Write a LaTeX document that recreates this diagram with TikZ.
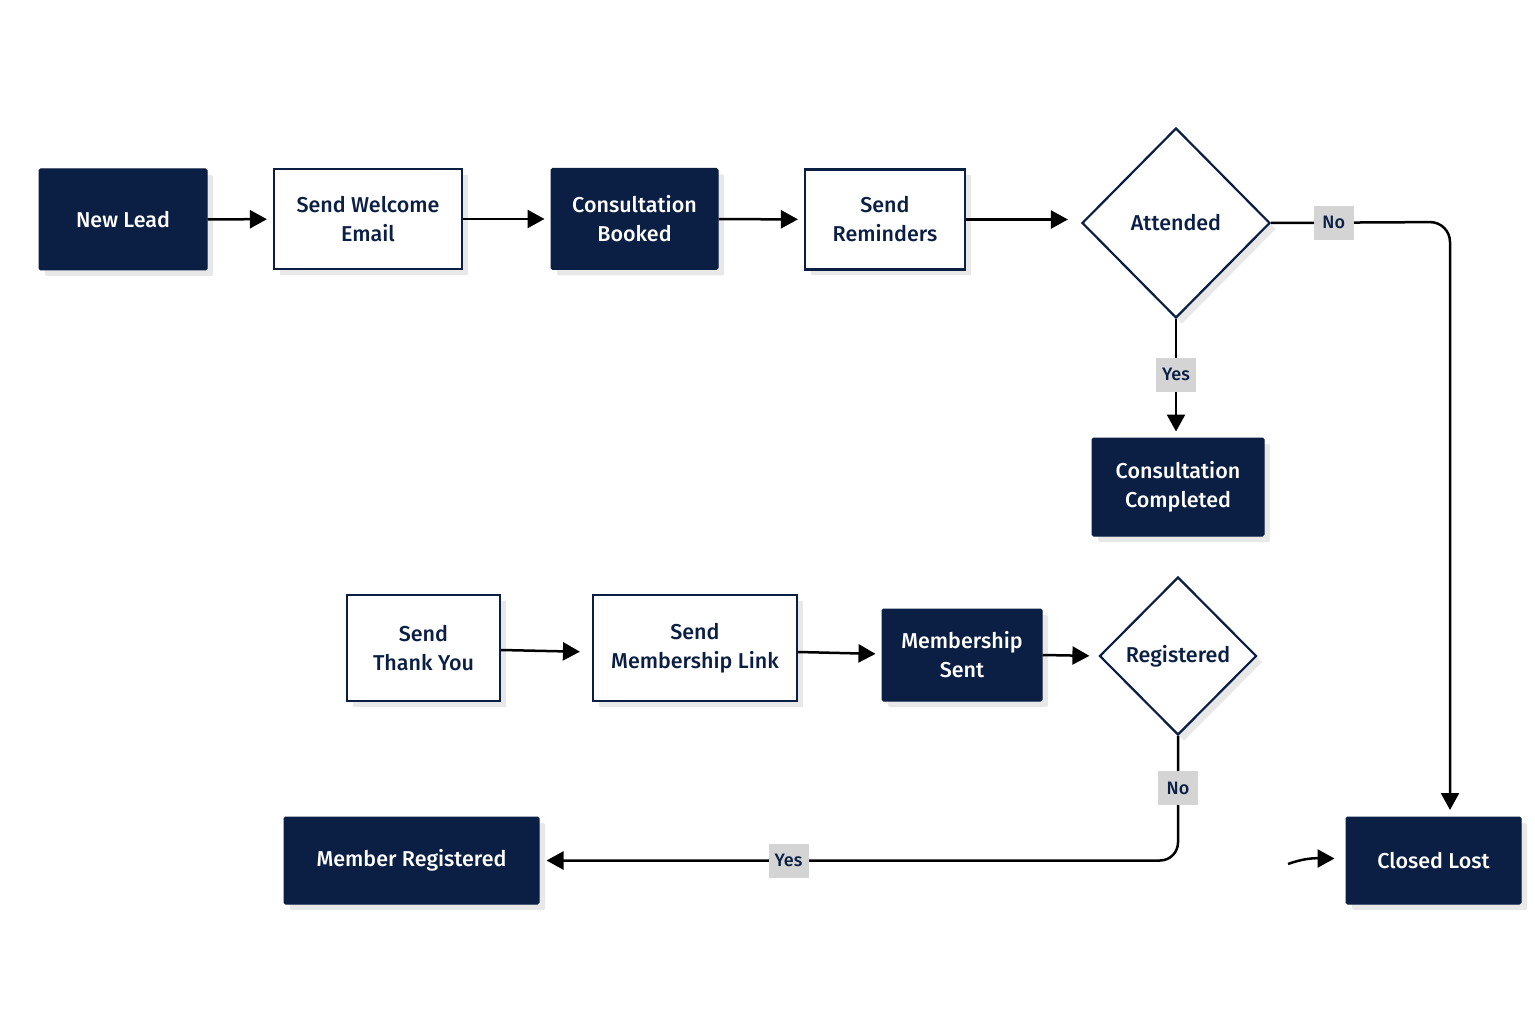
\documentclass[tikz,border=0pt]{standalone}
\usepackage{fontspec}
\setmainfont{Fira Sans}[UprightFont={* Medium}]
\usetikzlibrary{shapes.geometric,arrows.meta,shadows}
\definecolor{navy}{RGB}{11,31,68}
\definecolor{shade}{RGB}{232,232,232}
\definecolor{lblgray}{RGB}{212,212,212}
\begin{document}
\begin{tikzpicture}[x=1pt,y=-1pt,
  font=\fontsize{21.5}{29}\selectfont,
  shad/.style={general shadow={fill=shade, shadow xshift=6pt, shadow yshift=-6pt}},
  dark/.style={rectangle, fill=navy, draw=navy, line width=1pt, text=white, align=center, rounded corners=1.5pt, shad},
  light/.style={rectangle, fill=white, draw=navy, line width=2.2pt, text=navy, align=center, shad},
  dia/.style={diamond, fill=white, draw=navy, line width=2.2pt, text=navy, inner sep=0pt, shad},
  lbl/.style={rectangle, sharp corners, fill=lblgray, text=navy, font=\fontsize{18}{20}\selectfont, minimum width=40pt, minimum height=34pt, inner sep=2pt},
  arr/.style={line width=2.5pt, -{Triangle[length=17pt,width=18pt]}}]
\fill[white] (0,0) rectangle (1535,1024);
\useasboundingbox (0,0) rectangle (1535,1024);

% row 1
\node[dark, minimum width=168pt, minimum height=101pt] (nl) at (123,219.5) {New Lead};
\node[light, minimum width=188pt, minimum height=100pt] (we) at (368,219) {Send Welcome\\Email};
\node[dark, minimum width=167pt, minimum height=101pt] (cb) at (634.5,219) {Consultation\\Booked};
\node[light, minimum width=160pt, minimum height=100pt] (sr) at (885,219.5) {Send\\Reminders};
\node[dia, minimum width=188pt, minimum height=190pt] (att) at (1176,223) {Attended};
\node[dark, minimum width=172pt, minimum height=98pt] (cc) at (1178,487) {Consultation\\Completed};

% row 2
\node[light, minimum width=153pt, minimum height=106pt] (ty) at (423.5,648) {Send\\Thank You};
\node[light, minimum width=204pt, minimum height=106pt] (ml) at (695,648) {Send\\Membership Link};
\node[dark, minimum width=160pt, minimum height=92pt] (ms) at (962,655) {Membership\\Sent};
\node[dia, minimum width=157pt, minimum height=158pt] (reg) at (1178,656) {Registered};

% row 3
\node[dark, minimum width=255pt, minimum height=87pt] (mr) at (411.5,860.5) {Member Registered};
\node[dark, minimum width=175pt, minimum height=87pt] (cl) at (1433.5,860.5) {Closed Lost};

% connectors
\draw[arr, shorten >=6pt] (nl) -- (we);
\draw[arr, shorten >=6pt] (we) -- (cb);
\draw[arr, shorten >=6pt] (cb) -- (sr);
\draw[arr, shorten >=13pt] (sr.east) -- (sr.east -| att.west);
\coordinate (c1) at (1450,222);
\coordinate (c2) at (1450,817);
\draw[arr, rounded corners=20pt, shorten >=7pt] (att.east) -- node[lbl, pos=0.35]{No} (c1) -- (c2);
\draw[arr, shorten >=6pt] (att.south) -- node[lbl, pos=0.47]{Yes} (att.south |- cc.north);

\draw[arr, shorten >=12pt] ([yshift=-2pt]ty.east) -- ([yshift=-4pt]ml.west);
\draw[arr, shorten >=6pt] ([yshift=-4pt]ml.east) -- ([yshift=1pt]ms.west);
\draw[arr, shorten >=9pt] (ms.east) -- (reg.west);
\draw[arr, rounded corners=18pt, shorten >=7pt] (reg.south) |- node[lbl, pos=0.21]{No} node[lbl, pos=0.805]{Yes} (mr.east);

\coordinate (s) at (1288,864);
\draw[arr, shorten >=11pt] (s) to[out=20,in=180] ([yshift=2pt]cl.west);
\end{tikzpicture}
\end{document}
